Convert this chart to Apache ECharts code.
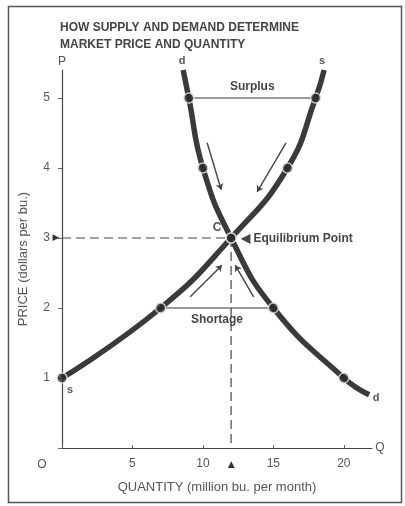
<!DOCTYPE html>
<html><head><meta charset="utf-8">
<script src="https://cdn.jsdelivr.net/npm/echarts@6/dist/echarts.min.js"></script>
<style>html,body{margin:0;padding:0;background:#fff}#chart{width:405px;height:506px}</style>
</head><body><div id="chart"></div>
<script>
// Market for a grain, quantities in million bushels per month, prices in dollars per bushel
const priceTicks = [1, 2, 3, 4, 5];
const quantityTicks = [5, 10, 15, 20];

// supply schedule
const supplyQty = [0, 7, 12, 16, 18];
const supplyPrice = [1, 2, 3, 4, 5];
// demand schedule
const demandQty = [9, 10, 12, 15, 20];
const demandPrice = [5, 4, 3, 2, 1];

// where the drawn curves run beyond the schedule points
const supplyTail = [18.6, 5.4];
const demandHead = [8.6, 5.4];
const demandTail = [21.8, 0.76];

const equilibrium = [12, 3];
const surplusPrice = 5, surplusFrom = 9, surplusTo = 18;
const shortagePrice = 2, shortageFrom = 7, shortageTo = 15;

// price-adjustment arrows: start and end in (quantity, price)
const arrowStart = [[10.3, 4.36], [15.9, 4.36], [9.1, 2.16], [13.6, 2.16]];
const arrowEnd   = [[11.3, 3.69], [13.85, 3.66], [11.35, 2.61], [12.3, 2.61]];

const INK = '#3a3a3a';
const TXT = '#555';
const FONT = '"Liberation Sans", Arial, sans-serif';

const supplyPts = supplyQty.map((q, i) => [q, supplyPrice[i]]);
const demandPts = demandQty.map((q, i) => [q, demandPrice[i]]);

const chart = echarts.init(document.getElementById('chart'), null, {renderer: 'canvas'});

const option = {
  animation: false,
  backgroundColor: '#fff',
  grid: {left: 62, top: 70, width: 310, height: 378},
  xAxis: {
    type: 'value', min: 0, max: 22, interval: 5,
    name: 'QUANTITY (million bu. per month)', nameLocation: 'middle', nameGap: 33,
    nameTextStyle: {color: TXT, fontSize: 13, fontFamily: FONT},
    axisLine: {lineStyle: {color: '#444', width: 1.2}},
    axisTick: {inside: true, length: 3, lineStyle: {color: '#666'}},
    axisLabel: {color: TXT, fontSize: 12, fontFamily: FONT, margin: 10,
      formatter: v => quantityTicks.includes(v) ? String(v) : '', showMaxLabel: false},
    splitLine: {show: false}
  },
  yAxis: {
    type: 'value', min: 0, max: 5.4, interval: 1,
    name: 'PRICE (dollars per bu.)', nameLocation: 'middle', nameGap: 32, nameRotate: 90,
    nameTextStyle: {color: TXT, fontSize: 13, fontFamily: FONT},
    axisLine: {show: true, lineStyle: {color: '#444', width: 1.2}},
    axisTick: {show: true, length: 4, lineStyle: {color: '#666'}},
    axisLabel: {color: TXT, fontSize: 12, fontFamily: FONT, margin: 12,
      formatter: v => priceTicks.includes(v) ? String(v) : '', showMaxLabel: false},
    splitLine: {show: false}
  },
  series: [
    // equilibrium guides
    {type: 'line', data: [[0, equilibrium[1]], equilibrium], showSymbol: false, silent: true,
      lineStyle: {color: '#444', width: 1.2, type: [9, 5]}, z: 1},
    {type: 'line', data: [equilibrium, [equilibrium[0], 0]], showSymbol: false, silent: true,
      lineStyle: {color: '#444', width: 1.2, type: [9, 5]}, z: 1},
    // surplus and shortage gaps
    {type: 'line', data: [[surplusFrom, surplusPrice], [surplusTo, surplusPrice]], showSymbol: false,
      lineStyle: {color: '#333', width: 1.2}, z: 1},
    {type: 'line', data: [[shortageFrom, shortagePrice], [shortageTo, shortagePrice]], showSymbol: false,
      lineStyle: {color: '#333', width: 1.2}, z: 1},
    // supply curve
    {name: 'supply', type: 'line', data: supplyPts.concat([supplyTail]), smooth: 0.5,
      showSymbol: false, lineStyle: {color: INK, width: 5.5}, z: 2},
    // demand curve
    {name: 'demand', type: 'line', data: [demandHead].concat(demandPts, [demandTail]), smooth: 0.5,
      showSymbol: false, lineStyle: {color: INK, width: 5.5}, z: 2},
    // schedule points
    {type: 'scatter', data: supplyPts.concat(demandPts), symbolSize: 10,
      itemStyle: {color: '#2b2b2b', borderColor: '#e8e8e8', borderWidth: 1.5}, z: 3},
    // adjustment arrows
    {type: 'lines', coordinateSystem: 'cartesian2d', polyline: false,
      symbol: ['none', 'arrow'], symbolSize: 6,
      lineStyle: {color: '#444', width: 1.4, opacity: 1},
      data: arrowStart.map((s, i) => ({coords: [s, arrowEnd[i]]})), z: 2}
  ]
};
chart.setOption(option);

function px(q, p) { return chart.convertToPixel({gridIndex: 0}, [q, p]); }
function text(pos, str, style, dx, dy) {
  return {type: 'text', x: pos[0] + (dx || 0), y: pos[1] + (dy || 0), silent: true,
    style: Object.assign({text: str, fill: TXT, font: '12px ' + FONT, textAlign: 'center', textVerticalAlign: 'middle'}, style || {})};
}

const eq = px(equilibrium[0], equilibrium[1]);
const origin = px(0, 0);
const graphics = [
  {type: 'rect', shape: {x: 8.5, y: 6.5, width: 393, height: 496}, style: {fill: 'none', stroke: '#555', lineWidth: 1.5}, silent: true},
  {type: 'text', x: 60, y: 19, silent: true,
    style: {text: 'HOW SUPPLY AND DEMAND DETERMINE\nMARKET PRICE AND QUANTITY', fill: '#444',
      font: 'bold 12px ' + FONT, lineHeight: 17, textAlign: 'left', textVerticalAlign: 'top'}},
  text(px(0, 5.4), 'P', {}, 0, -8),
  text(px(22, 0), 'Q', {}, 8, 0),
  text(origin, 'O', {}, -20, 17),
  text(px(0, equilibrium[1]), '\u25B6', {font: '9px "DejaVu Sans"', fill: '#333'}, -6, 0),
  text(px(equilibrium[0], 0), '\u25B2', {font: '9px "DejaVu Sans"', fill: '#333'}, 0, 17),
  text(eq, 'C', {font: 'bold 12px ' + FONT}, -14, -10),
  text(eq, '\u25C0 Equilibrium Point', {font: 'bold 12px ' + FONT, textAlign: 'left', fill: '#444'}, 10, 1),
  text(px((surplusFrom + surplusTo) / 2, surplusPrice), 'Surplus', {font: 'bold 12px ' + FONT, fill: '#444'}, 0, -11),
  text(px((shortageFrom + shortageTo) / 2, shortagePrice), 'Shortage', {font: 'bold 12px ' + FONT, fill: '#444'}, 0, 12),
  text(px(demandHead[0], demandHead[1]), 'd', {font: 'bold 11px ' + FONT}, -1, -9),
  text(px(supplyTail[0], supplyTail[1]), 's', {font: 'bold 11px ' + FONT}, -2, -9),
  text(px(supplyQty[0], supplyPrice[0]), 's', {font: 'bold 11px ' + FONT}, 8, 12),
  text(px(demandTail[0], demandTail[1]), 'd', {font: 'bold 11px ' + FONT}, 7, 3)
];
chart.setOption({graphic: graphics});
</script>
</body></html>
